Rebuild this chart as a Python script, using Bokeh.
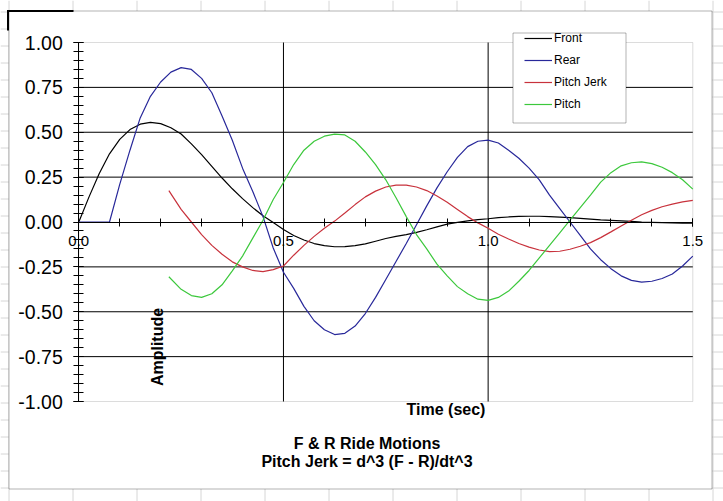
import math
from bokeh.plotting import figure
from bokeh.models import (LinearAxis, SingleIntervalTicker, PrintfTickFormatter, Range1d,
                          Span, BoxAnnotation, Label, Legend, LegendItem, ColumnDataSource)
from bokeh.embed import file_html
from bokeh.resources import INLINE

# ---------------- data ----------------
time_full = [0.000, 0.025, 0.050, 0.075, 0.100, 0.125, 0.150, 0.175, 0.200, 0.225, 0.250, 0.275,
             0.300, 0.325, 0.350, 0.375, 0.400, 0.425, 0.450, 0.475, 0.500, 0.525, 0.550, 0.575,
             0.600, 0.625, 0.650, 0.675, 0.700, 0.725, 0.750, 0.775, 0.800, 0.825, 0.850, 0.875,
             0.900, 0.925, 0.950, 0.975, 1.000, 1.025, 1.050, 1.075, 1.100, 1.125, 1.150, 1.175,
             1.200, 1.225, 1.250, 1.275, 1.300, 1.325, 1.350, 1.375, 1.400, 1.425, 1.450, 1.475,
             1.500]
front = [0.0, 0.14, 0.27, 0.38, 0.46, 0.515, 0.545, 0.555, 0.548, 0.525, 0.49, 0.435,
         0.375, 0.31, 0.245, 0.185, 0.13, 0.08, 0.035, -0.003, -0.042, -0.075, -0.10, -0.12,
         -0.132, -0.138, -0.137, -0.132, -0.122, -0.107, -0.092, -0.08, -0.07, -0.058, -0.043, -0.027,
         -0.012, -0.002, 0.006, 0.013, 0.018, 0.024, 0.028, 0.031, 0.032, 0.032, 0.03, 0.027,
         0.024, 0.02, 0.016, 0.012, 0.009, 0.006, 0.003, 0.0, -0.002, -0.004, -0.005, -0.006,
         -0.006]
rear = [0.0, 0.0, 0.0, 0.0, 0.21, 0.40, 0.58, 0.70, 0.78, 0.835, 0.86, 0.85,
        0.80, 0.72, 0.59, 0.455, 0.30, 0.17, 0.03, -0.145, -0.28, -0.37, -0.47, -0.55,
        -0.60, -0.627, -0.62, -0.58, -0.51, -0.42, -0.32, -0.22, -0.12, -0.015, 0.09, 0.19,
        0.28, 0.36, 0.42, 0.45, 0.456, 0.44, 0.40, 0.355, 0.30, 0.235, 0.15, 0.075,
        0.0, -0.075, -0.15, -0.21, -0.26, -0.30, -0.325, -0.335, -0.33, -0.315, -0.29, -0.245,
        -0.19]

time_pitch = [0.22, 0.250, 0.275, 0.300, 0.325, 0.350, 0.375, 0.400, 0.425, 0.450, 0.475, 0.500,
              0.525, 0.550, 0.575, 0.600, 0.625, 0.650, 0.675, 0.700, 0.725, 0.750, 0.775, 0.800,
              0.825, 0.850, 0.875, 0.900, 0.925, 0.950, 0.975, 1.000, 1.025, 1.050, 1.075, 1.100,
              1.125, 1.150, 1.175, 1.200, 1.225, 1.250, 1.275, 1.300, 1.325, 1.350, 1.375, 1.400,
              1.425, 1.450, 1.475, 1.500]
pitch_jerk = [0.175, 0.07, 0.0, -0.07, -0.13, -0.18, -0.222, -0.25, -0.27, -0.276, -0.265, -0.245,
              -0.185, -0.13, -0.08, -0.035, 0.005, 0.05, 0.097, 0.14, 0.172, 0.195, 0.205, 0.205,
              0.195, 0.175, 0.145, 0.11, 0.07, 0.03, -0.005, -0.035, -0.068, -0.095, -0.12, -0.14,
              -0.156, -0.165, -0.163, -0.152, -0.135, -0.115, -0.087, -0.055, -0.022, 0.01, 0.04, 0.065,
              0.085, 0.10, 0.112, 0.12]
pitch = [-0.305, -0.375, -0.41, -0.42, -0.40, -0.35, -0.272, -0.19, -0.09, 0.01, 0.125, 0.22,
         0.32, 0.40, 0.45, 0.478, 0.49, 0.485, 0.45, 0.39, 0.32, 0.235, 0.135, 0.03,
         -0.07, -0.15, -0.235, -0.30, -0.36, -0.40, -0.43, -0.437, -0.42, -0.385, -0.33, -0.27,
         -0.20, -0.13, -0.06, 0.01, 0.08, 0.15, 0.222, 0.275, 0.313, 0.33, 0.335, 0.325,
         0.305, 0.275, 0.235, 0.183]

series_names = ["Front", "Rear", "Pitch Jerk", "Pitch"]
series_colors = ["#000000", "#28289a", "#c8323c", "#3cc83c"]

y_grid_values = [-0.75, -0.5, -0.25, 0.25, 0.5, 0.75]
x_grid_values = [0.5, 1.0]
x_min, x_max = 0.0, 1.5
y_min, y_max = -1.0, 1.0

title_lines = ["F & R Ride Motions", "Pitch Jerk = d^3 (F - R)/dt^3"]
x_title = "Time (sec)"
y_title = "Amplitude"

# ---------------- layout helpers (pixel -> data) ----------------
W, H = 723, 501
PX_X0, PX_X1 = 78.3, 692.3     # pixel columns of x_min / x_max
PX_YTOP, PX_YBOT = 42.0, 401.0  # pixel rows of y_max / y_min
SX = (PX_X1 - PX_X0) / (x_max - x_min)
SY = (PX_YBOT - PX_YTOP) / (y_max - y_min)


def dx(px):
    return x_min + (px - PX_X0) / SX


def dy(py):
    return y_max - (py - PX_YTOP) / SY


FONT = "Liberation Sans"

p = figure(width=W, height=H, x_range=Range1d(dx(0), dx(W)), y_range=Range1d(dy(H), dy(0)),
           output_backend="svg", toolbar_location=None, title=None,
           x_axis_type=None, y_axis_type=None, min_border=0)
p.min_border_left = p.min_border_right = p.min_border_top = p.min_border_bottom = 0
p.outline_line_color = None
p.background_fill_color = "white"
p.border_fill_color = "white"

# spreadsheet cell grid behind the chart
for k in range(12):
    p.add_layout(Span(location=dx(8 + 64 * k + 0.5), dimension="height",
                      line_color="#d6d6d6", line_width=1, level="image"))
for k in range(30):
    p.add_layout(Span(location=dy(11 + 17 * k + 0.5), dimension="width",
                      line_color="#d6d6d6", line_width=1, level="image"))

# chart area
p.add_layout(BoxAnnotation(left=dx(8.5), right=dx(711.5), top=dy(10.5), bottom=dy(488.5),
                           fill_color="white", fill_alpha=1.0, line_color="black",
                           line_width=1, level="underlay"))
# selection mark at the top-left corner
p.add_layout(BoxAnnotation(left=dx(6.5), right=dx(73), top=dy(9.5), bottom=dy(11.5),
                           fill_color="black", fill_alpha=1.0, line_color=None, level="underlay"))
p.add_layout(BoxAnnotation(left=dx(6.5), right=dx(8.5), top=dy(9.5), bottom=dy(30),
                           fill_color="black", fill_alpha=1.0, line_color=None, level="underlay"))

# plot area border (grey)
p.add_layout(BoxAnnotation(left=x_min, right=x_max, top=y_max, bottom=y_min,
                           fill_color=None, line_color="#8c8c8c", line_width=1, level="underlay"))

# gridlines
p.segment(x0=[x_min] * len(y_grid_values), x1=[x_max] * len(y_grid_values),
          y0=y_grid_values, y1=y_grid_values, line_color="black", line_width=1)
p.segment(x0=x_grid_values, x1=x_grid_values, y0=[y_min] * len(x_grid_values),
          y1=[y_max] * len(x_grid_values), line_color="black", line_width=1)

# axes
yaxis = LinearAxis(fixed_location=0, bounds=(y_min, y_max),
                   ticker=SingleIntervalTicker(interval=0.25, num_minor_ticks=5),
                   formatter=PrintfTickFormatter(format="%.2f"))
yaxis.major_tick_in = 5
yaxis.major_tick_out = 5
yaxis.minor_tick_in = 5
yaxis.minor_tick_out = 5
yaxis.major_label_standoff = 11
yaxis.major_label_text_font = FONT
yaxis.major_label_text_font_size = "19.5px"
yaxis.major_label_text_color = "black"
yaxis.axis_line_color = "black"
yaxis.major_tick_line_color = "black"
yaxis.minor_tick_line_color = "black"
p.add_layout(yaxis, "left")

xaxis = LinearAxis(fixed_location=0, bounds=(x_min, x_max),
                   ticker=SingleIntervalTicker(interval=0.5, num_minor_ticks=5),
                   formatter=PrintfTickFormatter(format="%.1f"))
xaxis.major_tick_in = 4
xaxis.major_tick_out = 4
xaxis.minor_tick_in = 4
xaxis.minor_tick_out = 4
xaxis.major_label_standoff = 10
xaxis.major_label_text_font = FONT
xaxis.major_label_text_font_size = "15px"
xaxis.major_label_text_color = "black"
xaxis.axis_line_color = "black"
p.add_layout(xaxis, "below")

# data lines
xs = [time_full, time_full, time_pitch, time_pitch]
ys = [front, rear, pitch_jerk, pitch]
renderers = []
for name, color, tx, vy in zip(series_names, series_colors, xs, ys):
    src = ColumnDataSource(dict(t=tx, v=vy))
    r = p.line("t", "v", source=src, line_color=color, line_width=1.2)
    renderers.append(r)

# legend box + legend
p.add_layout(BoxAnnotation(left=dx(512.5), right=dx(625.5), top=dy(32.5), bottom=dy(122.5),
                           fill_color="white", fill_alpha=1.0, line_color="black",
                           line_width=1, level="guide"))
legend = Legend(items=[LegendItem(label=n, renderers=[r]) for n, r in zip(series_names, renderers)],
                location=(524, H - 113.7), padding=0, spacing=2, glyph_width=28, glyph_height=20,
                label_height=20, label_standoff=2, border_line_color=None,
                background_fill_alpha=0.0, label_text_font=FONT, label_text_font_size="12px",
                label_text_color="black")
p.add_layout(legend)

# texts
p.add_layout(Label(x=dx(157), y=dy(346.5), text=y_title, angle=math.pi / 2, text_align="center",
                   text_baseline="middle", text_font=FONT, text_font_style="bold",
                   text_font_size="16px", text_color="black"))
p.add_layout(Label(x=dx(445.5), y=dy(409), text=x_title, text_align="center",
                   text_baseline="middle", text_font=FONT, text_font_style="bold",
                   text_font_size="16px", text_color="black"))
for i, line in enumerate(title_lines):
    p.add_layout(Label(x=dx(366.5), y=dy(443 + 18 * i), text=line, text_align="center",
                       text_baseline="middle", text_font=FONT, text_font_style="bold",
                       text_font_size="16px", text_color="black"))

open("out.html", "w").write(file_html(p, INLINE))
